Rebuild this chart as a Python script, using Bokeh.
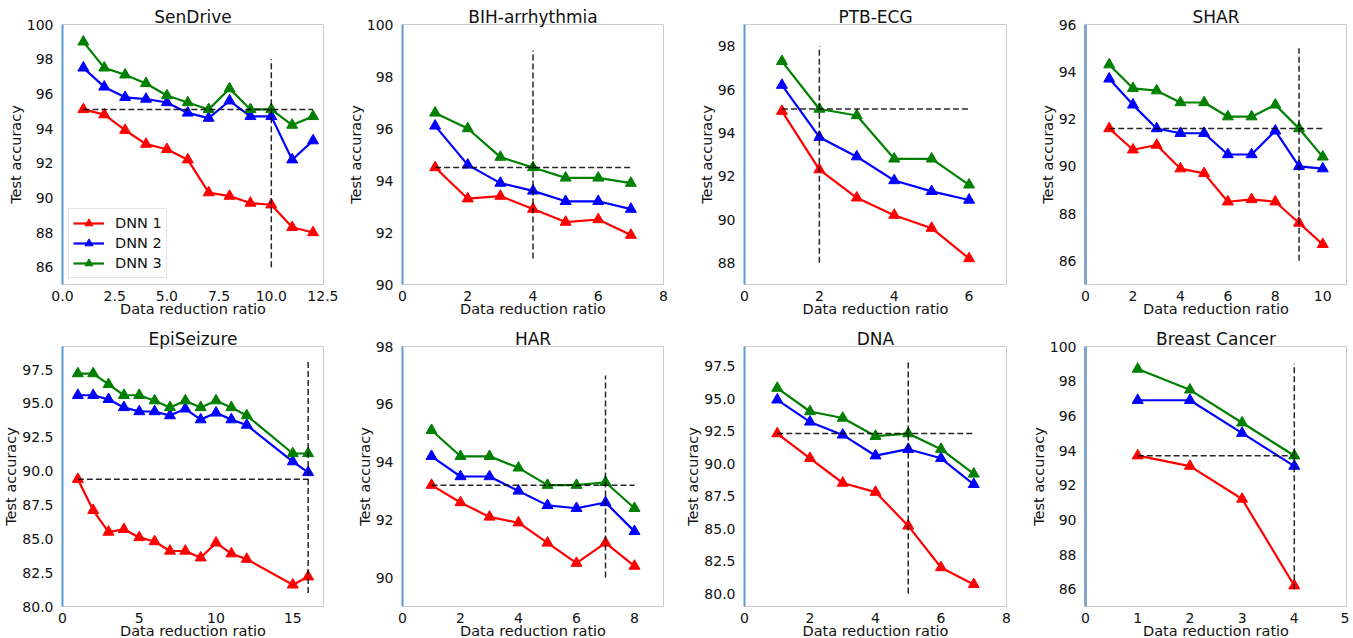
from bokeh.plotting import figure
from bokeh.layouts import gridplot
from bokeh.models import FixedTicker, NumeralTickFormatter
from bokeh.embed import file_html
from bokeh.resources import INLINE

series_names = ["DNN 1", "DNN 2", "DNN 3"]
series_colors = ["#ff0000", "#0000ff", "#008000"]

# ---- SenDrive
sendrive_x = [1, 2, 3, 4, 5, 6, 7, 8, 9, 10, 11, 12]
sendrive_dnn1 = [95.1, 94.8, 93.9, 93.1, 92.8, 92.2, 90.3, 90.1, 89.7, 89.6, 88.3, 88.0]
sendrive_dnn2 = [97.5, 96.4, 95.8, 95.7, 95.5, 94.9, 94.6, 95.6, 94.7, 94.7, 92.2, 93.3]
sendrive_dnn3 = [99.0, 97.5, 97.1, 96.6, 95.9, 95.5, 95.1, 96.3, 95.1, 95.1, 94.2, 94.7]
sendrive_hline = [95.1, 1, 12]
sendrive_vline = [10, 86, 98]
sendrive_xticks = [0, 2.5, 5, 7.5, 10, 12.5]
sendrive_yticks = [86, 88, 90, 92, 94, 96, 98, 100]

# ---- BIH-arrhythmia
bih_x = [1, 2, 3, 4, 5, 6, 7]
bih_dnn1 = [94.5, 93.3, 93.4, 92.9, 92.4, 92.5, 91.9]
bih_dnn2 = [96.1, 94.6, 93.9, 93.6, 93.2, 93.2, 92.9]
bih_dnn3 = [96.6, 96.0, 94.9, 94.5, 94.1, 94.1, 93.9]
bih_hline = [94.5, 1, 7]
bih_vline = [4, 91, 99]
bih_xticks = [0, 2, 4, 6, 8]
bih_yticks = [90, 92, 94, 96, 98, 100]

# ---- PTB-ECG
ptb_x = [1, 2, 3, 4, 5, 6]
ptb_dnn1 = [95.0, 92.3, 91.0, 90.2, 89.6, 88.2]
ptb_dnn2 = [96.2, 93.8, 92.9, 91.8, 91.3, 90.9]
ptb_dnn3 = [97.3, 95.1, 94.8, 92.8, 92.8, 91.6]
ptb_hline = [95.1, 1, 6]
ptb_vline = [2, 88, 98]
ptb_xticks = [0, 2, 4, 6]
ptb_yticks = [88, 90, 92, 94, 96, 98]

# ---- SHAR
shar_x = [1, 2, 3, 4, 5, 6, 7, 8, 9, 10]
shar_dnn1 = [91.6, 90.7, 90.9, 89.9, 89.7, 88.5, 88.6, 88.5, 87.6, 86.7]
shar_dnn2 = [93.7, 92.6, 91.6, 91.4, 91.4, 90.5, 90.5, 91.5, 90.0, 89.9]
shar_dnn3 = [94.3, 93.3, 93.2, 92.7, 92.7, 92.1, 92.1, 92.6, 91.6, 90.4]
shar_hline = [91.6, 1, 10]
shar_vline = [9, 86, 95]
shar_xticks = [0, 2, 4, 6, 8, 10]
shar_yticks = [86, 88, 90, 92, 94, 96]

# ---- EpiSeizure
epi_x = [1, 2, 3, 4, 5, 6, 7, 8, 9, 10, 11, 12, 15, 16]
epi_dnn1 = [89.4, 87.1, 85.5, 85.7, 85.1, 84.8, 84.1, 84.1, 83.6, 84.7, 83.9, 83.5, 81.6, 82.2]
epi_dnn2 = [95.6, 95.6, 95.3, 94.7, 94.4, 94.4, 94.1, 94.6, 93.8, 94.3, 93.8, 93.4, 90.7, 89.9]
epi_dnn3 = [97.2, 97.2, 96.4, 95.6, 95.6, 95.2, 94.7, 95.2, 94.7, 95.2, 94.7, 94.1, 91.3, 91.3]
epi_hline = [89.4, 1, 16]
epi_vline = [16, 81, 98.2]
epi_xticks = [0, 5, 10, 15]
epi_yticks = [80, 82.5, 85, 87.5, 90, 92.5, 95, 97.5]

# ---- HAR
har_x = [1, 2, 3, 4, 5, 6, 7, 8]
har_dnn1 = [93.2, 92.6, 92.1, 91.9, 91.2, 90.5, 91.2, 90.4]
har_dnn2 = [94.2, 93.5, 93.5, 93.0, 92.5, 92.4, 92.6, 91.6]
har_dnn3 = [95.1, 94.2, 94.2, 93.8, 93.2, 93.2, 93.3, 92.4]
har_hline = [93.2, 1, 8]
har_vline = [7, 90, 97]
har_xticks = [0, 2, 4, 6, 8]
har_yticks = [90, 92, 94, 96, 98]

# ---- DNA
dna_x = [1, 2, 3, 4, 5, 6, 7]
dna_dnn1 = [92.3, 90.4, 88.5, 87.8, 85.2, 82.0, 80.7]
dna_dnn2 = [94.9, 93.2, 92.2, 90.6, 91.1, 90.4, 88.4]
dna_dnn3 = [95.8, 94.0, 93.5, 92.1, 92.3, 91.1, 89.2]
dna_hline = [92.3, 1, 7]
dna_vline = [5, 80, 98]
dna_xticks = [0, 2, 4, 6, 8]
dna_yticks = [80, 82.5, 85, 87.5, 90, 92.5, 95, 97.5]

# ---- Breast Cancer
bc_x = [1, 2, 3, 4]
bc_dnn1 = [93.7, 93.1, 91.2, 86.2]
bc_dnn2 = [96.9, 96.9, 95.0, 93.1]
bc_dnn3 = [98.7, 97.5, 95.6, 93.7]
bc_hline = [93.7, 1, 4]
bc_vline = [4, 86, 99]
bc_xticks = [0, 1, 2, 3, 4, 5]
bc_yticks = [86, 88, 90, 92, 94, 96, 98, 100]

titles = ["SenDrive", "BIH-arrhythmia", "PTB-ECG", "SHAR",
          "EpiSeizure", "HAR", "DNA", "Breast Cancer"]
x_limits = [(0, 12.5), (0, 8), (0, 7), (0, 11), (0, 17), (0, 9), (0, 8), (0, 5)]
y_limits = [(85, 100), (90, 100), (87, 99), (85, 96), (80, 99.2), (89, 98), (79, 99), (85, 100)]
x_fmt = ["0.0", "0", "0", "0", "0", "0", "0", "0"]
y_fmt = ["0", "0", "0", "0", "0.0", "0", "0.0", "0"]

panels = [
    (sendrive_x, [sendrive_dnn1, sendrive_dnn2, sendrive_dnn3], sendrive_hline, sendrive_vline, sendrive_xticks, sendrive_yticks),
    (bih_x, [bih_dnn1, bih_dnn2, bih_dnn3], bih_hline, bih_vline, bih_xticks, bih_yticks),
    (ptb_x, [ptb_dnn1, ptb_dnn2, ptb_dnn3], ptb_hline, ptb_vline, ptb_xticks, ptb_yticks),
    (shar_x, [shar_dnn1, shar_dnn2, shar_dnn3], shar_hline, shar_vline, shar_xticks, shar_yticks),
    (epi_x, [epi_dnn1, epi_dnn2, epi_dnn3], epi_hline, epi_vline, epi_xticks, epi_yticks),
    (har_x, [har_dnn1, har_dnn2, har_dnn3], har_hline, har_vline, har_xticks, har_yticks),
    (dna_x, [dna_dnn1, dna_dnn2, dna_dnn3], dna_hline, dna_vline, dna_xticks, dna_yticks),
    (bc_x, [bc_dnn1, bc_dnn2, bc_dnn3], bc_hline, bc_vline, bc_xticks, bc_yticks),
]

FONT = "DejaVu Sans"
col_left = [52, 60, 60, 68]
col_right = [19, 19, 11, 3]
col_fw = [261, 261, 262, 261]
row_top = [24, 27]
row_bottom = [34, 32]
spine_color = ["#5b9bd5", "#5b9bd5", "#5b9bd5", "#7fa7cc"]
spine_width = [2, 2, 2, 3]

figs = []
for i, (xs, ys, hl, vl, xt, yt) in enumerate(panels):
    c = i % 4
    r = i // 4
    p = figure(frame_width=col_fw[c], frame_height=260,
               min_border_left=col_left[c], min_border_right=col_right[c],
               min_border_top=row_top[r], min_border_bottom=row_bottom[r],
               x_range=x_limits[i], y_range=y_limits[i],
               title=titles[i],
               output_backend="svg", toolbar_location=None, tools="")
    p.title.align = "center"
    p.title.text_font = FONT
    p.title.text_font_size = "17px"
    p.title.text_font_style = "normal"
    p.title.text_color = "#111111"
    p.title.standoff = -4
    p.background_fill_color = "white"
    p.border_fill_color = "white"
    p.outline_line_color = "#cccccc"
    p.outline_line_width = 1
    p.xgrid.visible = False
    p.ygrid.visible = False

    for ax in (p.xaxis[0], p.yaxis[0]):
        ax.major_tick_line_color = None
        ax.minor_tick_line_color = None
        ax.major_label_text_font = FONT
        ax.major_label_text_font_size = "14px"
        ax.major_label_text_color = "#111111"
        ax.axis_label_text_font = FONT
        ax.axis_label_text_font_size = "14.5px"
        ax.axis_label_text_font_style = "normal"
        ax.axis_label_text_color = "#111111"

    p.xaxis.ticker = FixedTicker(ticks=xt)
    p.yaxis.ticker = FixedTicker(ticks=yt)
    p.xaxis.formatter = NumeralTickFormatter(format=x_fmt[i])
    p.yaxis.formatter = NumeralTickFormatter(format=y_fmt[i])
    p.xaxis.axis_label = "Data reduction ratio"
    p.yaxis.axis_label = "Test accuracy"
    p.xaxis.major_label_standoff = 0
    p.yaxis.major_label_standoff = 3
    p.xaxis.axis_label_standoff = -3
    p.yaxis.axis_label_standoff = 0
    p.xaxis.axis_line_color = "#cccccc"
    p.xaxis.axis_line_width = 1
    p.yaxis.axis_line_color = spine_color[c]
    p.yaxis.axis_line_width = spine_width[c]

    for k in range(3):
        kw = dict(legend_label=series_names[k]) if i == 0 else {}
        p.line(xs, ys[k], line_color=series_colors[k], line_width=2.2, **kw)
        p.scatter(xs, ys[k], marker="triangle", size=11,
                  fill_color=series_colors[k], line_color=series_colors[k], **kw)

    p.segment(x0=[hl[1]], y0=[hl[0]], x1=[hl[2]], y1=[hl[0]],
              line_color="black", line_width=1.5, line_dash="6 3", line_alpha=0.85)
    p.segment(x0=[vl[0]], y0=[vl[1]], x1=[vl[0]], y1=[vl[2]],
              line_color="black", line_width=1.5, line_dash="6 3", line_alpha=0.85)

    if i == 0:
        lg = p.legend[0]
        lg.location = "bottom_left"
        lg.margin = 6
        lg.padding = 4
        lg.spacing = 0
        lg.label_height = 20
        lg.glyph_height = 20
        lg.glyph_width = 31
        lg.label_standoff = 11
        lg.label_text_font = FONT
        lg.label_text_font_size = "14.5px"
        lg.label_text_color = "#111111"
        lg.border_line_color = "#cccccc"
        lg.border_line_width = 1
        lg.background_fill_alpha = 0.8
    figs.append(p)

grid = gridplot([figs[0:4], figs[4:8]], toolbar_location=None)
open("out.html", "w").write(file_html(grid, INLINE))
